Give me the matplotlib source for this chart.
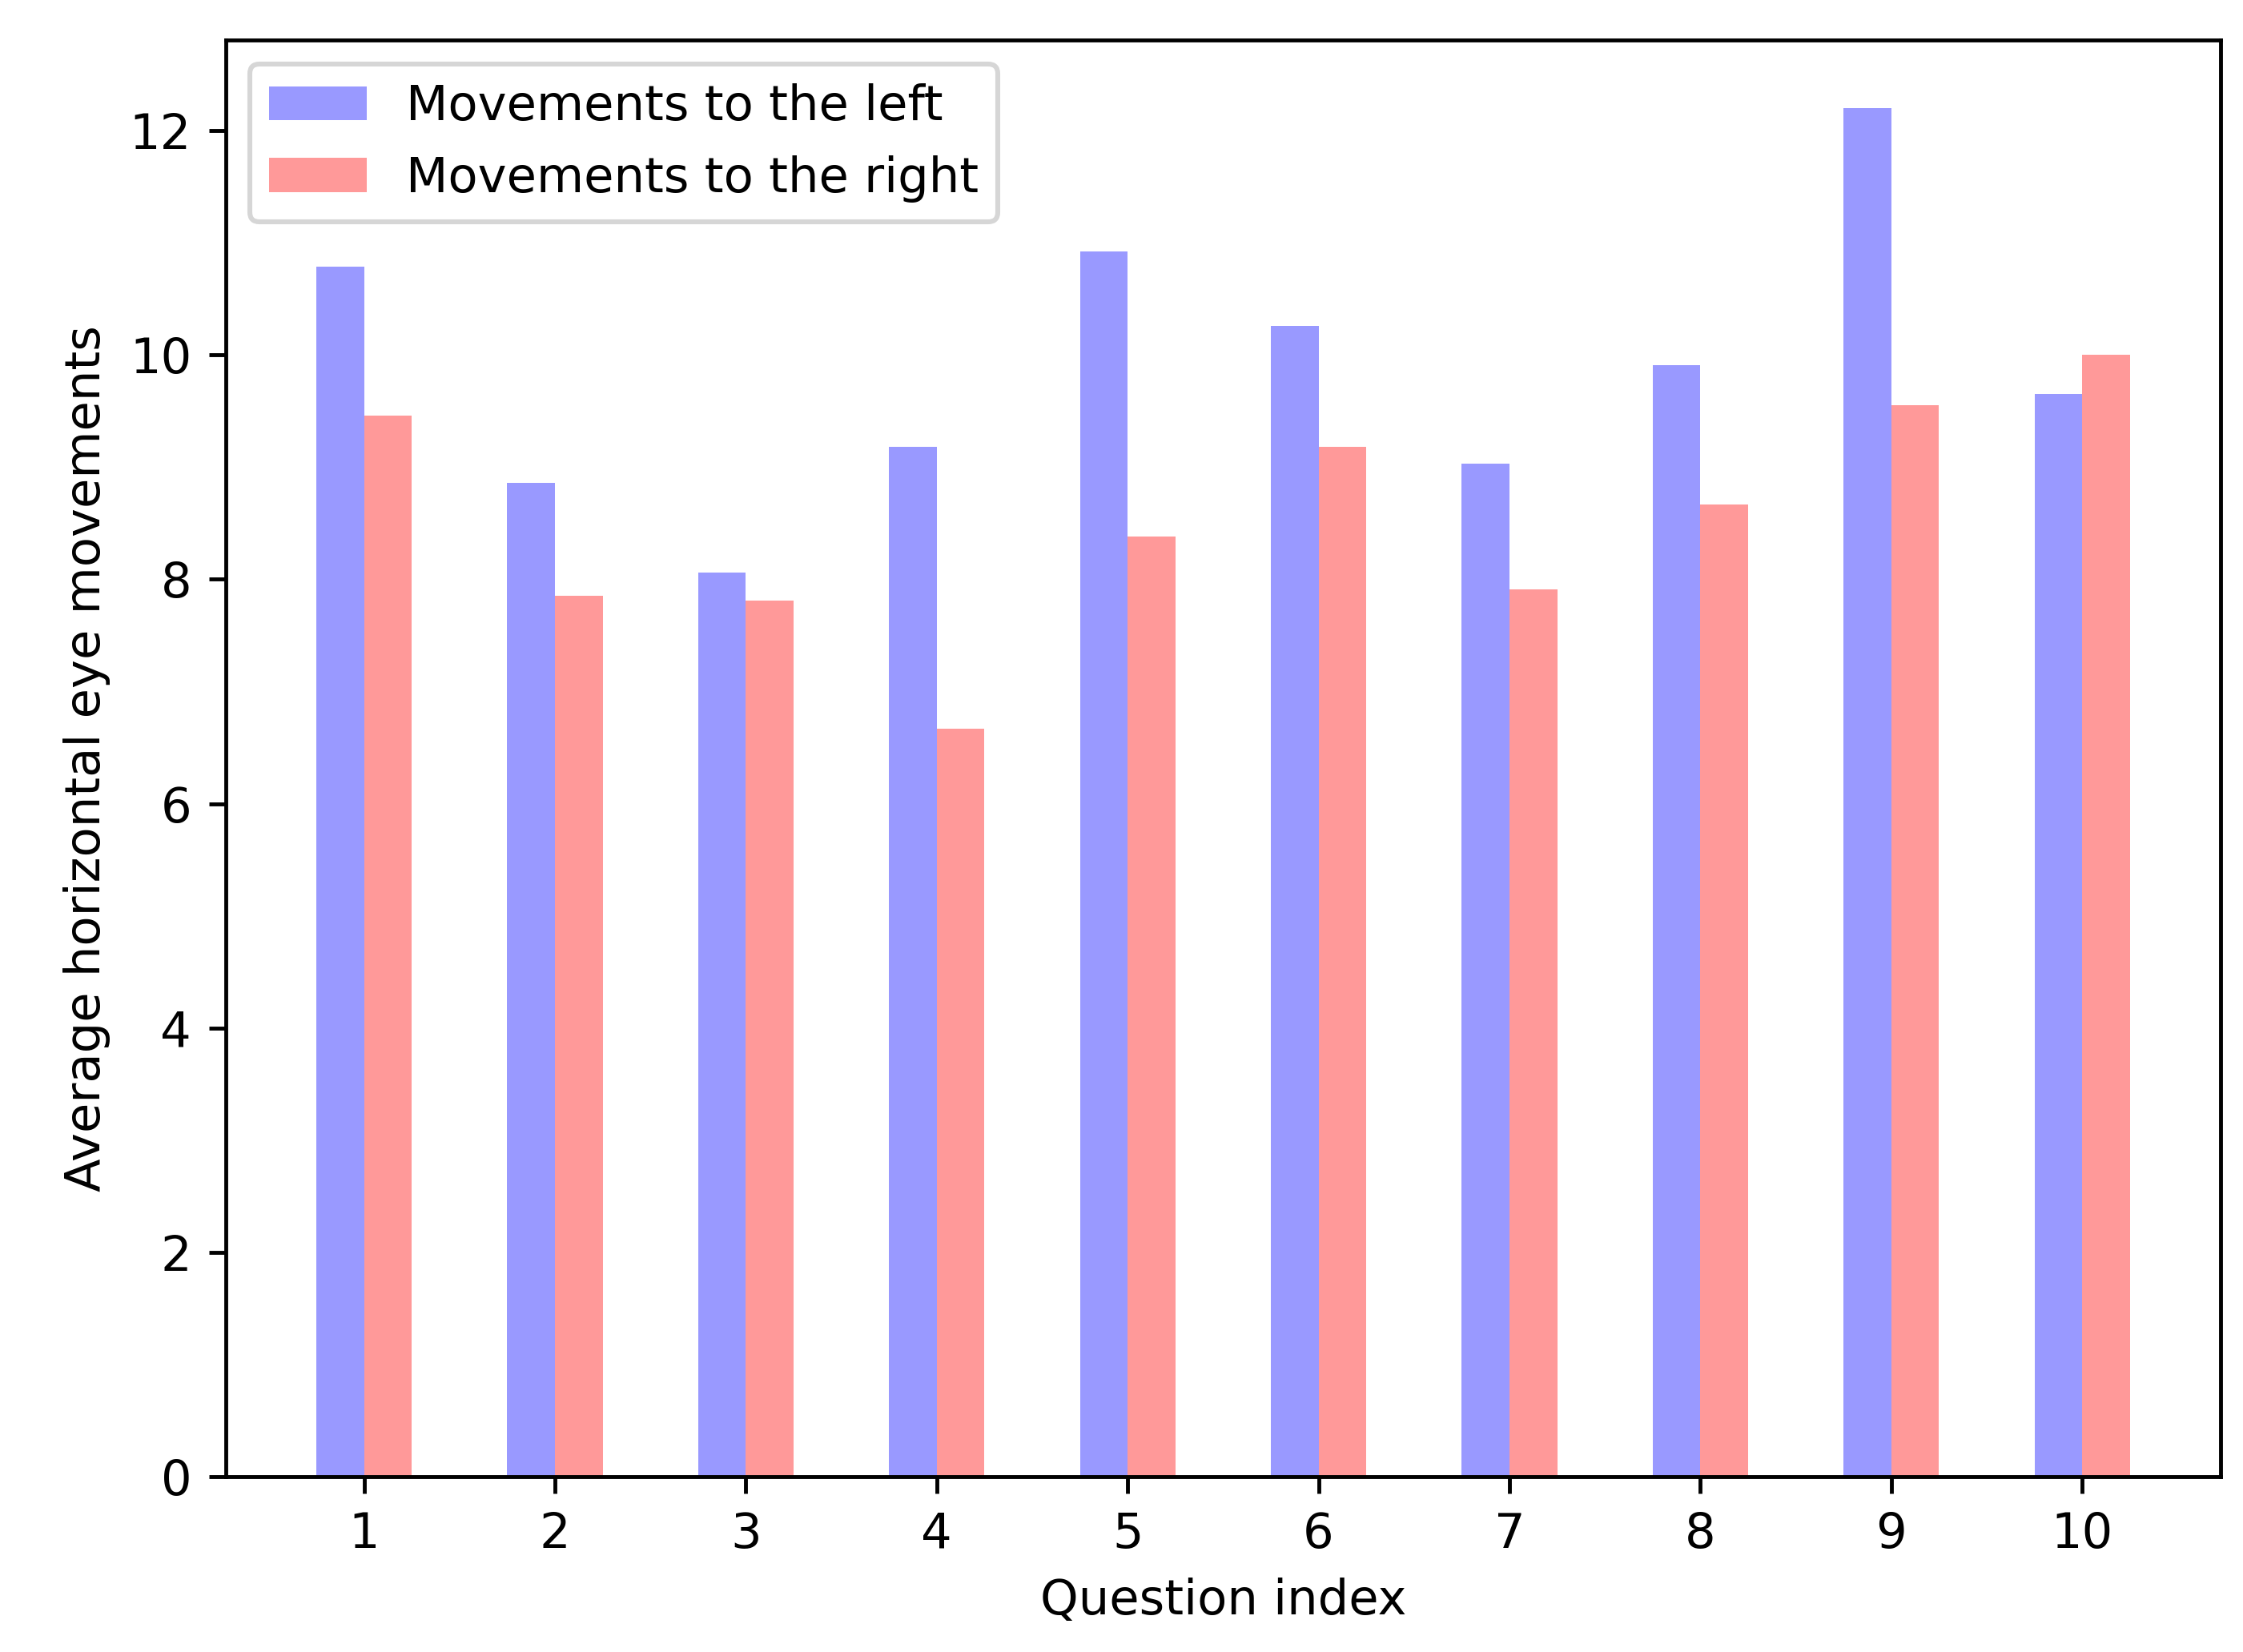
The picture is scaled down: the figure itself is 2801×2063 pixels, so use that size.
import numpy as np
import matplotlib.pyplot as plt

questions = np.arange(1, 11)
left_moves = [10.79, 8.86, 8.06, 9.18, 10.92, 10.26, 9.03, 9.91, 12.2, 9.65]
right_moves = [9.46, 7.85, 7.81, 6.67, 8.38, 9.18, 7.91, 8.67, 9.55, 10.0]

fig = plt.figure(figsize=(6.4, 2063 / 437.66), dpi=437.66)
ax = fig.add_axes([0.1006, 0.106, 0.8894, 0.870])
width = 0.25
ax.bar(questions - width, left_moves, width, align='edge', color='b', alpha=0.4,
       label='Movements to the left')
ax.bar(questions, right_moves, width, align='edge', color='r', alpha=0.4,
       label='Movements to the right')
ax.set_xticks(questions)
ax.set_xlabel('Question index')
ax.set_ylabel('Average horizontal eye movements')
ax.legend(loc='upper left')
fig.savefig('out.png')
